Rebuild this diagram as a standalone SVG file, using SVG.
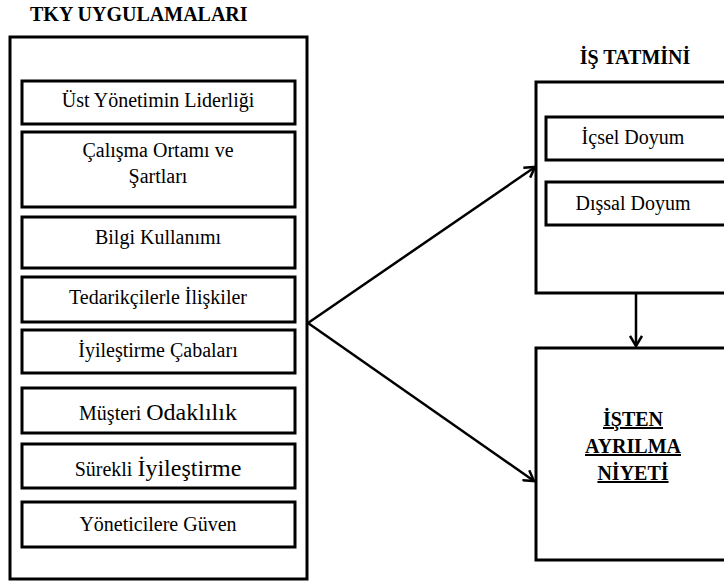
<svg xmlns="http://www.w3.org/2000/svg" width="724" height="584" viewBox="0 0 724 584">
<defs>
<style>
.box{fill:#fff;stroke:#000;stroke-width:3}
.t{font-family:'Liberation Serif','Times New Roman',serif;font-size:20px;fill:#000;text-anchor:middle}
.h{font-family:'Liberation Serif','Times New Roman',serif;font-size:20px;font-weight:bold;fill:#000}
.u{font-family:'Liberation Serif','Times New Roman',serif;font-size:20px;font-weight:bold;fill:#000;text-anchor:middle;text-decoration:underline}
.big{font-size:24px}
.c{fill:none;stroke:#000;stroke-width:2.5}
</style>
<marker id="ah" markerWidth="14" markerHeight="14" refX="11" refY="7" orient="auto" markerUnits="userSpaceOnUse">
<path d="M1,1 L11,7 L1,13" fill="none" stroke="#000" stroke-width="2.5"/>
</marker>
</defs>
<rect width="724" height="584" fill="#fff"/>
<g id="tky">
<text class="h" x="30" y="21">TKY UYGULAMALARI</text>
<rect class="box" x="10" y="37" width="297" height="542"/>
</g>
<g id="n1"><rect class="box" x="22" y="81" width="273" height="43"/><text class="t" x="158" y="107">Üst Yönetimin Liderliği</text></g>
<g id="n2"><rect class="box" x="22" y="132" width="273" height="75"/><text class="t" x="158" y="157">Çalışma Ortamı ve</text><text class="t" x="158" y="183">Şartları</text></g>
<g id="n3"><rect class="box" x="22" y="217" width="273" height="51"/><text class="t" x="158" y="244">Bilgi Kullanımı</text></g>
<g id="n4"><rect class="box" x="22" y="277" width="273" height="45"/><text class="t" x="158" y="304">Tedarikçilerle İlişkiler</text></g>
<g id="n5"><rect class="box" x="22" y="330" width="273" height="43"/><text class="t" x="158" y="357">İyileştirme Çabaları</text></g>
<g id="n6"><rect class="box" x="22" y="388" width="273" height="45"/><text class="t" x="158" y="420"><tspan>Müşteri </tspan><tspan class="big">Odaklılık</tspan></text></g>
<g id="n7"><rect class="box" x="22" y="444" width="273" height="44"/><text class="t" x="158" y="476"><tspan>Sürekli </tspan><tspan class="big">İyileştirme</tspan></text></g>
<g id="n8"><rect class="box" x="22" y="502" width="273" height="45"/><text class="t" x="158" y="531">Yöneticilere Güven</text></g>
<g id="istatmini">
<text class="h" x="635" y="64" text-anchor="middle">İŞ TATMİNİ</text>
<rect class="box" x="536" y="82" width="200" height="211"/>
</g>
<g id="icsel"><rect class="box" x="546" y="117" width="190" height="43"/><text class="t" x="633" y="144">İçsel Doyum</text></g>
<g id="dissal"><rect class="box" x="546" y="182" width="190" height="43"/><text class="t" x="633" y="210">Dışsal Doyum</text></g>
<g id="isten">
<rect class="box" x="536" y="348" width="200" height="212"/>
<text class="u" x="633" y="426">İŞTEN</text>
<text class="u" x="633" y="453">AYRILMA</text>
<text class="u" x="633" y="480">NİYETİ</text>
</g>
<g id="connectors">
<line class="c" x1="308" y1="323" x2="535" y2="167" marker-end="url(#ah)"/>
<line class="c" x1="308" y1="323" x2="534" y2="481" marker-end="url(#ah)"/>
<line class="c" x1="636" y1="294" x2="636" y2="346" marker-end="url(#ah)"/>
</g>
</svg>
